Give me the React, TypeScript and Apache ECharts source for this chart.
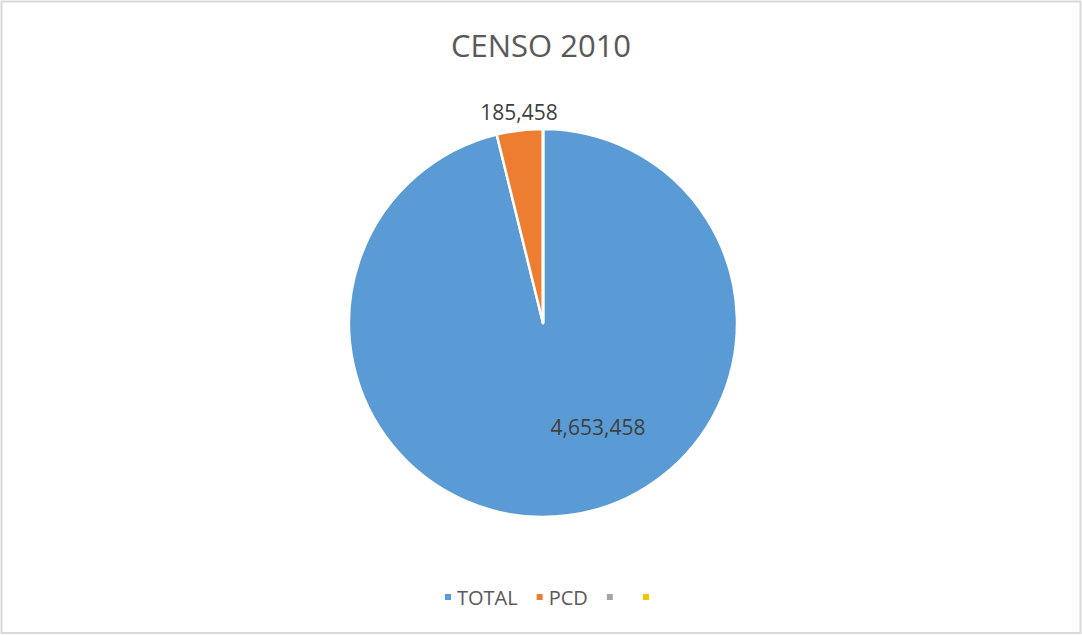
import React, { useEffect, useRef } from "react";
import * as echarts from "echarts";

const categories = ["TOTAL", "PCD", " ", "  "];
const values = [4653458, 185458, 0, 0];
const colors = ["#5B9BD5", "#ED7D31", "#A5A5A5", "#FFC000"];
const titleText = "CENSO 2010";

const FONT = "'Open Sans', 'Noto Sans', sans-serif";

export default function App() {
  const ref = useRef<HTMLDivElement>(null);
  useEffect(() => {
    document.body.style.margin = "0";
    const chart = echarts.init(ref.current!, null, { renderer: "svg" });
    const labelOffsets: number[][] = [
      [43, 5],
      [-12, -112],
      [0, 0],
      [0, 0],
    ];
    chart.setOption({
      animation: false,
      backgroundColor: "#ffffff",
      color: colors,
      title: {
        text: titleText,
        left: "center",
        top: 24,
        textStyle: {
          fontFamily: FONT,
          fontSize: 31,
          fontWeight: "normal",
          color: "#595959",
        },
      },
      legend: {
        bottom: 28,
        left: 443,
        padding: 0,
        icon: "rect",
        itemWidth: 8,
        itemHeight: 8,
        itemGap: 17,
        data: categories,
        textStyle: { fontFamily: FONT, fontSize: 20, color: "#595959" },
        selectedMode: false,
      },
      graphic: [
        {
          type: "rect",
          shape: { x: 1.5, y: 1.5, width: 1079, height: 631.5 },
          style: { fill: "none", stroke: "#D9D9D9", lineWidth: 2 },
          silent: true,
        },
      ],
      series: [
        {
          type: "pie",
          center: [543, 323],
          radius: [0, 194],
          startAngle: 90,
          clockwise: true,
          avoidLabelOverlap: false,
          itemStyle: { borderColor: "#ffffff", borderWidth: 2.5 },
          label: {
            show: true,
            position: "inside",
            fontFamily: FONT,
            fontSize: 21,
            color: "#404040",
            formatter: (p: any) =>
              p.value ? Number(p.value).toLocaleString("en-US") : "",
          },
          labelLine: { show: false },
          emphasis: { disabled: true },
          data: categories.map((name, i) => ({
            name,
            value: values[i],
            label: { offset: labelOffsets[i] },
          })),
        },
      ],
    });
    return () => chart.dispose();
  }, []);
  return <div ref={ref} style={{ width: 1082, height: 635 }} />;
}
